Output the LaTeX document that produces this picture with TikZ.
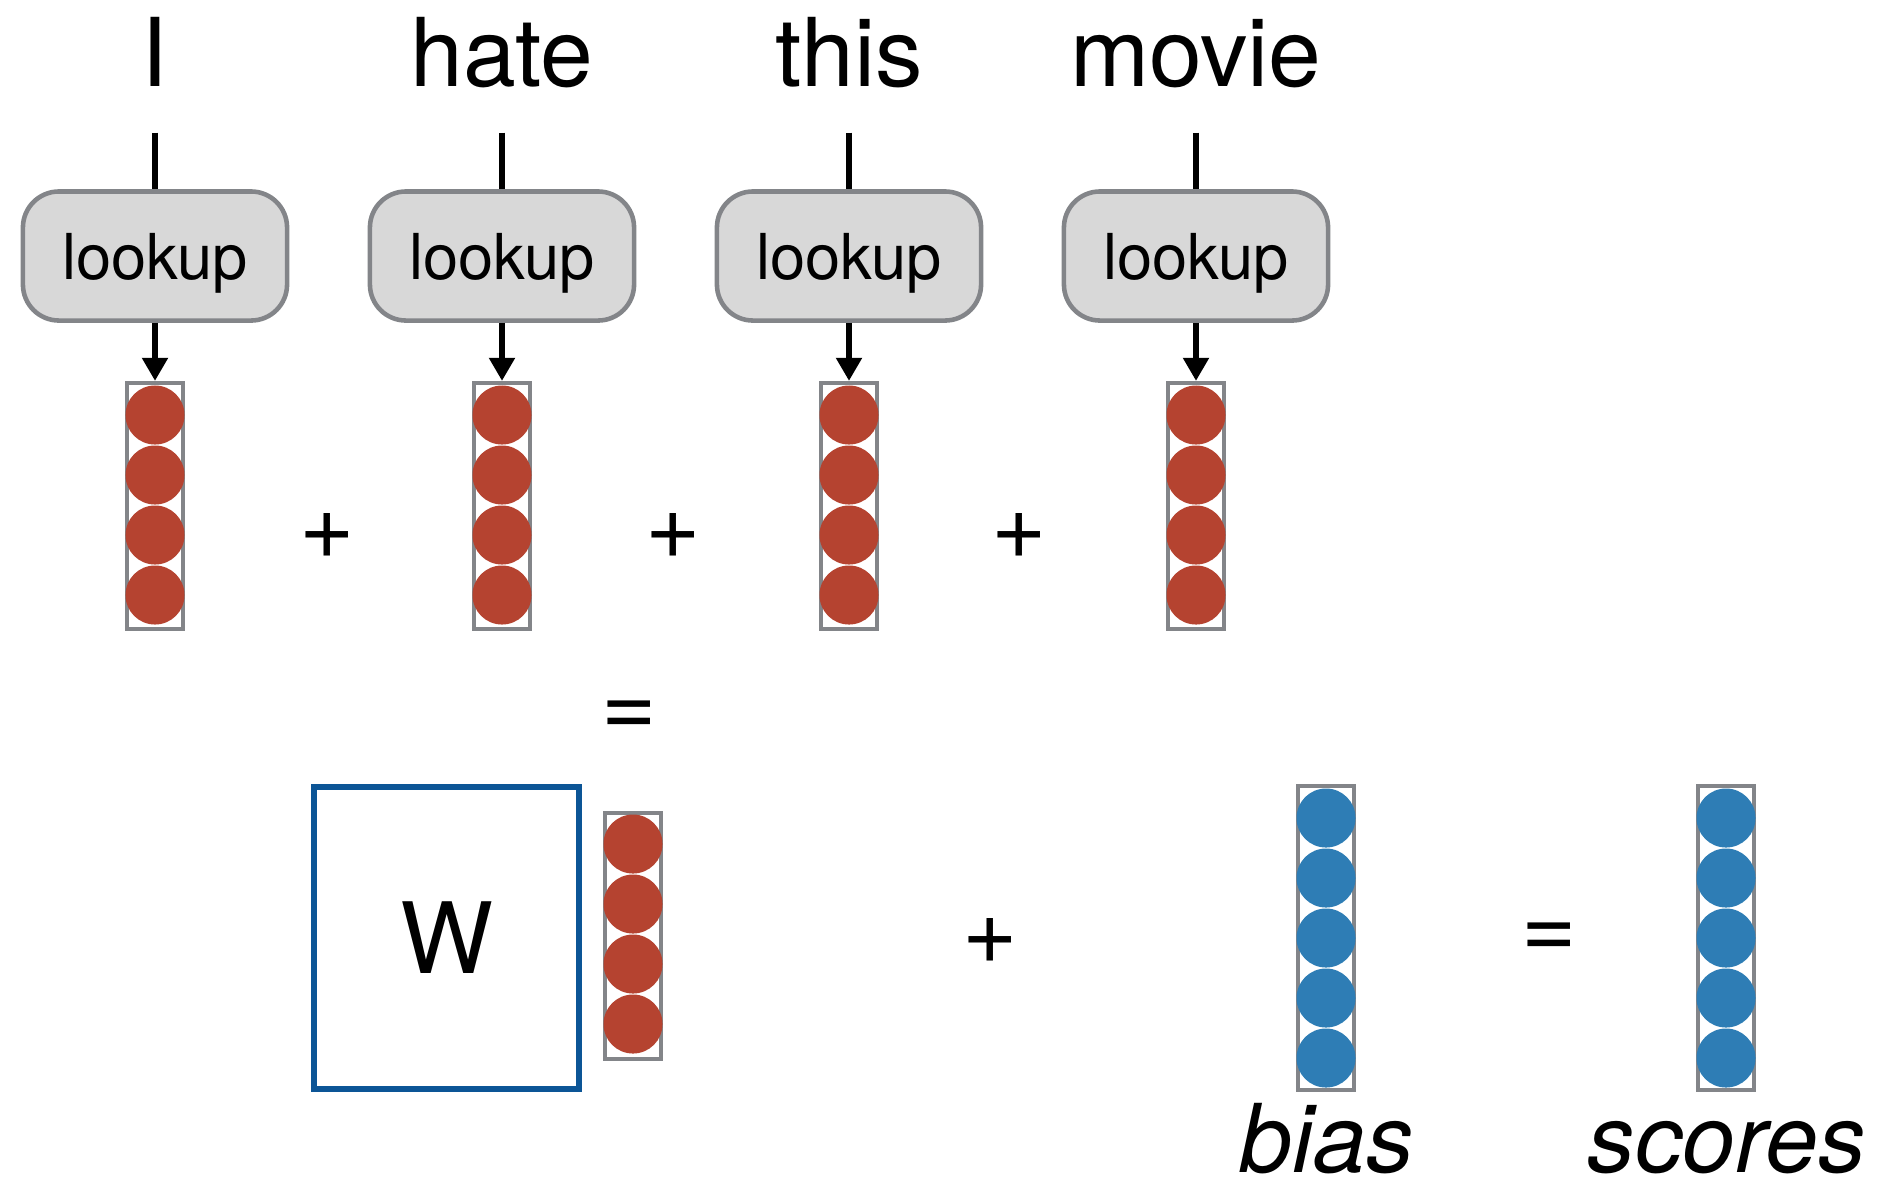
\documentclass[tikz,border=0pt]{standalone}
\usepackage{fontspec}
\setmainfont{TeX Gyre Heros}
\usetikzlibrary{arrows.meta}
\definecolor{vecred}{RGB}{181,67,48}
\definecolor{vecblue}{RGB}{46,125,181}
\definecolor{boxgray}{RGB}{131,133,137}
\definecolor{lookfill}{RGB}{216,216,216}
\definecolor{wblue}{RGB}{12,85,150}

\begin{document}
\begin{tikzpicture}[x=0.01cm,y=-0.01cm,
		word/.style={font=\fontsize{27}{30}\selectfont,inner sep=0pt,text depth=0pt,anchor=base},
		lookupbox/.style={draw=boxgray,line width=1.3pt,fill=lookfill,rounded corners=0.36cm,minimum width=2.64cm,minimum height=1.29cm,text depth=0pt,font=\fontsize{18}{20}\selectfont},
		vecbox/.style={draw=boxgray,line width=1.2pt,fill=white,minimum width=0.56cm,inner sep=0pt},
		unit/.style={circle,inner sep=0pt,minimum size=0.59cm},
		sym/.style={font=\fontsize{27}{30}\selectfont,inner sep=0pt}]
		\useasboundingbox (0,0) rectangle (1879,1193);

		\foreach \w [count=\i] in {I,hate,this,movie} {
			\pgfmathsetmacro\cx{155+347*(\i-1)}
			\node[word] (w\i) at (\cx,86) {\w};
			\node[lookupbox] (lk\i) at (\cx,256) {lookup};
			\node[vecbox,minimum height=2.46cm] (v\i) at (\cx,506) {};
			\foreach \k in {1,...,4}
				\node[unit,fill=vecred] (v\i u\k) at (\cx,{415+60*(\k-1)}) {};
			\draw[line width=1.5pt,shorten <=0.46cm] (w\i.south) -- (lk\i.north);
			\draw[line width=1.5pt,-{Triangle[length=2.3mm,width=2.5mm]}] (lk\i.south) -- (v\i.north);
		}
		\foreach \x [count=\i] in {327,673,1019}
			\node[sym] (p\i) at (\x,536) {+};
		\node[sym] (eq1) at (629,719) {=};

		\node[draw=wblue,line width=1.6pt,fill=white,minimum width=2.65cm,minimum height=3.02cm,font=\fontsize{28}{30}\selectfont] (W) at (446.5,938) {W};
		\node[vecbox,minimum height=2.46cm] (h) at (633,936) {};
		\foreach \k in {1,...,4}
			\node[unit,fill=vecred] (h u\k) at (633,{844+60*(\k-1)}) {};
		\node[sym] (p4) at (990,941) {+};
		\node[vecbox,minimum height=3.04cm] (b) at (1326,938) {};
		\foreach \k in {1,...,5}
			\node[unit,fill=vecblue] (b u\k) at (1326,{818+60*(\k-1)}) {};
		\node[sym] (eq2) at (1549,941) {=};
		\node[vecbox,minimum height=3.04cm] (s) at (1726,938) {};
		\foreach \k in {1,...,5}
			\node[unit,fill=vecblue] (s u\k) at (1726,{818+60*(\k-1)}) {};
		\node[word,font=\fontsize{27}{30}\selectfont\itshape] (bl) at (1327,1172) {bias};
		\node[word,font=\fontsize{27}{30}\selectfont\itshape] (sl) at (1727,1172) {scores};
\end{tikzpicture}
\end{document}
